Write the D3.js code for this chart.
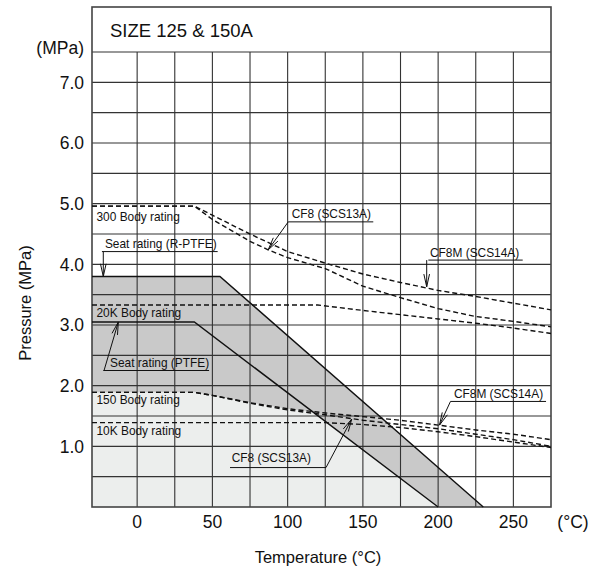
<!DOCTYPE html>
<html><head><meta charset="utf-8">
<script src="https://cdn.jsdelivr.net/npm/d3@7"></script>
<style>
html,body{margin:0;padding:0;background:#fff;}
svg{display:block;font-family:"Liberation Sans",Arial,Helvetica,sans-serif;}
</style></head>
<body><svg id="chart" width="603" height="571"></svg>
<script>
// ---------- DATA ----------
const title = "SIZE 125 & 150A";
const xTicks = [0, 50, 100, 150, 200, 250];
const yTicks = [1.0, 2.0, 3.0, 4.0, 5.0, 6.0, 7.0];
const xLabel = "Temperature (°C)";
const yLabel = "Pressure (MPa)";

// Seat ratings (solid)
const seatRPTFE = [[-30, 3.8], [55, 3.8], [230, 0]];
const seatPTFE  = [[-30, 3.05], [38, 3.05], [200, 0]];

// Body ratings (dashed)
const body300CF8M = [[-30, 4.96], [38, 4.96], [50, 4.81], [75, 4.50], [100, 4.21], [125, 4.02], [150, 3.84], [175, 3.70], [200, 3.57], [225, 3.47], [250, 3.36], [275, 3.25]];
const body300CF8  = [[-30, 4.96], [38, 4.96], [50, 4.74], [75, 4.38], [87, 4.24], [100, 4.11], [125, 3.93], [150, 3.64], [175, 3.45], [200, 3.27], [225, 3.14], [250, 3.06], [275, 2.97]];
const body20K     = [[-30, 3.33], [120, 3.33], [150, 3.24], [175, 3.17], [200, 3.10], [225, 3.03], [250, 2.95], [275, 2.86]];
const body150CF8M = [[-30, 1.89], [38, 1.89], [50, 1.84], [75, 1.72], [100, 1.62], [125, 1.55], [150, 1.49], [175, 1.43], [200, 1.35], [225, 1.27], [250, 1.20], [275, 1.11]];
const body150CF8  = [[-30, 1.89], [38, 1.89], [50, 1.84], [75, 1.71], [100, 1.60], [125, 1.52], [150, 1.43], [175, 1.36], [200, 1.29], [225, 1.20], [250, 1.11], [275, 1.00]];
const body10K     = [[-30, 1.39], [125, 1.39], [150, 1.36], [175, 1.31], [200, 1.24], [225, 1.16], [250, 1.07], [275, 0.98]];

// Annotations (text, text anchor point, underline span, arrow start -> tip), in data units
const annotations = [
  {text: "300 Body rating", tx: -27, ty: 4.72},
  {text: "20K Body rating", tx: -27, ty: 3.14},
  {text: "150 Body rating", tx: -27, ty: 1.70},
  {text: "10K Body rating", tx: -27, ty: 1.19},
  {text: "Seat rating (R-PTFE)", tx: -21.4, ty: 4.27, u: [-23.4, 53.5, 4.21], a: [-22.5, 4.21, -22.5, 3.8]},
  {text: "Seat rating (PTFE)", tx: -18, ty: 2.31, u: [-22.5, 47.8, 2.25], a: [-22, 2.25, -12.5, 3.05]},
  {text: "CF8 (SCS13A)", tx: 102.7, ty: 4.76, u: [100.4, 156.9, 4.70], a: [100.4, 4.70, 87.1, 4.24]},
  {text: "CF8M (SCS14A)", tx: 194.6, ty: 4.12, u: [193.5, 256.2, 4.07], a: [192.4, 4.07, 192.4, 3.63]},
  {text: "CF8M (SCS14A)", tx: 210.5, ty: 1.79, u: [208.2, 271.7, 1.74], a: [208.2, 1.74, 200.9, 1.35]},
  {text: "CF8 (SCS13A)", tx: 62.8, ty: 0.75, u: [61.7, 125.5, 0.65], a: [125.5, 0.65, 142.6, 1.45]}
];

// ---------- LAYOUT ----------
const svg = d3.select("#chart");
const x = d3.scaleLinear().domain([-30, 275]).range([92, 551]);
const y = d3.scaleLinear().domain([0, 7.5]).range([507, 52]);
const frameTop = 7;
const ink = "#111";

function interp(s, xv) {
  if (xv <= s[0][0]) return s[0][1];
  for (let i = 1; i < s.length; i++) {
    if (xv <= s[i][0]) {
      const [x0, y0] = s[i-1], [x1, y1] = s[i];
      return y0 + (y1 - y0) * (xv - x0) / (x1 - x0);
    }
  }
  return s[s.length-1][1];
}

// lower (light) region = under min(150 body CF8M, PTFE seat)
function lowerEnvelope(a, b) {
  const xmax = b[b.length-1][0];
  let xs = Array.from(new Set([...a.map(d=>d[0]), ...b.map(d=>d[0])])).filter(v => v <= xmax).sort((p,q)=>p-q);
  const out = [];
  for (let i = 0; i < xs.length; i++) {
    const xv = xs[i];
    if (i > 0) {
      const xp = xs[i-1];
      const dp = interp(a, xp) - interp(b, xp), dc = interp(a, xv) - interp(b, xv);
      if (dp * dc < 0) {
        const t = dp / (dp - dc);
        const xi = xp + t * (xv - xp);
        out.push([xi, interp(a, xi)]);
      }
    }
    out.push([xv, Math.min(interp(a, xv), interp(b, xv))]);
  }
  return out;
}

const area = d3.area().x(d => x(d[0])).y0(y(0)).y1(d => y(d[1]));
const line = d3.line().x(d => x(d[0])).y(d => y(d[1]));

// fills
svg.append("path").datum(seatRPTFE).attr("d", area).attr("fill", "#c9c9c9");
svg.append("path").datum(lowerEnvelope(body150CF8M, seatPTFE)).attr("d", area).attr("fill", "#eceeed");

// grid
const g = svg.append("g").attr("stroke", "#333").attr("stroke-width", 1.1);
d3.range(0.5, 7.51, 0.5).forEach(v => {
  g.append("line").attr("x1", x(-30)).attr("x2", x(275)).attr("y1", y(v)).attr("y2", y(v));
});
d3.range(0, 275, 25).forEach(v => {
  g.append("line").attr("x1", x(v)).attr("x2", x(v)).attr("y1", y(0)).attr("y2", y(7.5));
});
// frame
svg.append("rect").attr("x", x(-30)).attr("y", frameTop).attr("width", x(275) - x(-30)).attr("height", y(0) - frameTop)
  .attr("fill", "none").attr("stroke", "#444").attr("stroke-width", 1.6);

// title
svg.append("text").attr("x", 110).attr("y", 37).attr("font-size", 18.5).attr("fill", ink).text(title);

// solid seat lines
[seatRPTFE, seatPTFE].forEach(s => {
  svg.append("path").datum(s).attr("d", line).attr("fill", "none").attr("stroke", ink).attr("stroke-width", 1.4);
});
// dashed body lines
[body300CF8M, body300CF8, body20K, body150CF8M, body150CF8, body10K].forEach(s => {
  svg.append("path").datum(s).attr("d", line).attr("fill", "none").attr("stroke", ink)
    .attr("stroke-width", 1.4).attr("stroke-dasharray", "5,3");
});

// annotations
const ann = svg.append("g");
annotations.forEach(d => {
  ann.append("text").attr("x", x(d.tx)).attr("y", y(d.ty)).attr("font-size", 11.9).attr("fill", ink).text(d.text);
  if (d.u) {
    ann.append("line").attr("x1", x(d.u[0])).attr("x2", x(d.u[1])).attr("y1", y(d.u[2])).attr("y2", y(d.u[2]))
      .attr("stroke", ink).attr("stroke-width", 1);
  }
  if (d.a) {
    const x0 = x(d.a[0]), y0 = y(d.a[1]), x1 = x(d.a[2]), y1 = y(d.a[3]);
    ann.append("line").attr("x1", x0).attr("y1", y0).attr("x2", x1).attr("y2", y1).attr("stroke", ink).attr("stroke-width", 1);
    const ang = Math.atan2(y1 - y0, x1 - x0), L = 13, W = 0.22;
    const p1 = [x1 - L*Math.cos(ang - W), y1 - L*Math.sin(ang - W)];
    const p2 = [x1 - L*Math.cos(ang + W), y1 - L*Math.sin(ang + W)];
    ann.append("path").attr("d", `M${p1}L${x1},${y1}L${p2}`).attr("fill", "none").attr("stroke", ink).attr("stroke-width", 1);
  }
});

// axes labels
const fs = 17.5;
yTicks.forEach(v => {
  svg.append("text").attr("x", 84).attr("y", y(v)).attr("dy", "0.36em").attr("text-anchor", "end")
    .attr("font-size", fs).attr("fill", ink).text(d3.format(".1f")(v));
});
svg.append("text").attr("x", 84).attr("y", y(7.5) - 4).attr("dy", "0.36em").attr("text-anchor", "end")
  .attr("font-size", fs).attr("fill", ink).text("(MPa)");
xTicks.forEach(v => {
  svg.append("text").attr("x", x(v)).attr("y", 522).attr("dy", "0.36em").attr("text-anchor", "middle")
    .attr("font-size", fs).attr("fill", ink).text(v);
});
svg.append("text").attr("x", 573).attr("y", 522).attr("dy", "0.36em").attr("text-anchor", "middle")
  .attr("font-size", fs).attr("fill", ink).text("(°C)");
svg.append("text").attr("x", 318).attr("y", 557).attr("dy", "0.36em").attr("text-anchor", "middle")
  .attr("font-size", 16.5).attr("fill", ink).text(xLabel);
svg.append("text").attr("transform", "translate(25,303) rotate(-90)").attr("dy", "0.36em").attr("text-anchor", "middle")
  .attr("font-size", 16.5).attr("fill", ink).text(yLabel);
</script></body></html>
